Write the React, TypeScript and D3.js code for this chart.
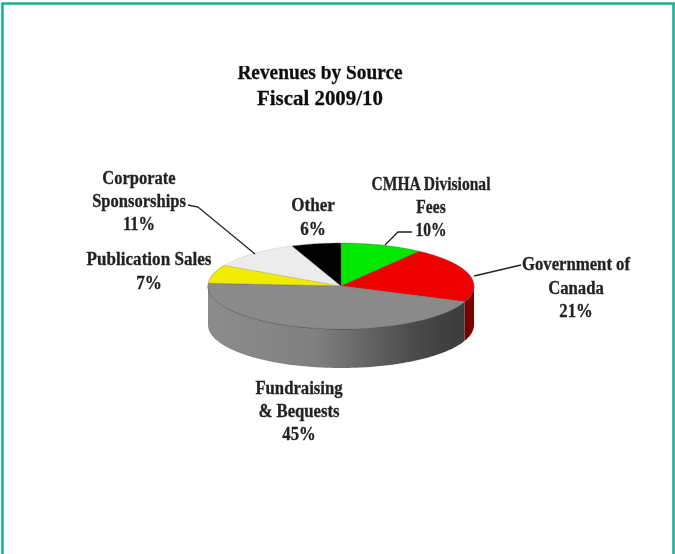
import React from "react";
import * as d3 from "d3";

const categories = ["CMHA Divisional Fees", "Government of Canada", "Fundraising & Bequests", "Publication Sales", "Corporate Sponsorships", "Other"];
const values = [10, 21, 45, 7, 11, 6];
const colors = ["#00e800", "#ee0000", "#8a8a8a", "#f0ec00", "#ececec", "#000000"];
const wallColors = ["#007000", "#7a0000", "url(#wall)", "#807a00", "#888888", "#000000"];
const titleLines = ["Revenues by Source", "Fiscal 2009/10"];
const titleStretch = [0.88, 0.95];
const labelLines = [
  ["CMHA Divisional", "Fees", "10%"],
  ["Government of", "Canada", "21%"],
  ["Fundraising", "& Bequests", "45%"],
  ["Publication Sales", "7%"],
  ["Corporate", "Sponsorships", "11%"],
  ["Other", "6%"],
];
const labelStretch = [0.82, 0.88, 0.88, 0.9, 0.87, 0.9];
const labelPos = [
  { x: 431, y: 190, lh: 23 },
  { x: 576, y: 270, lh: 23.5 },
  { x: 299, y: 394, lh: 23 },
  { x: 149, y: 265, lh: 24 },
  { x: 139, y: 184, lh: 23 },
  { x: 313, y: 211, lh: 24 },
];
const leaders = [
  [[412, 232], [398, 232], [385, 245]],
  [[521, 265], [474, 276]],
  [],
  [],
  [[188, 205], [198, 207], [255, 254]],
  [],
];

const cx = 341, cy = 286, rx = 133, ry = 43, depth = 39;
const px = (a: number) => cx + rx * Math.sin(a);
const py = (a: number) => cy - ry * Math.cos(a);
const line = d3.line();
const close = d3.line().curve(d3.curveLinearClosed);

function samples(a0: number, a1: number) {
  const n = Math.max(2, Math.ceil((a1 - a0) / 0.02));
  return d3.range(n + 1).map((i) => a0 + ((a1 - a0) * i) / n);
}

const arcs = d3.pie<number>().sort(null).startAngle(0).endAngle(2 * Math.PI)(values);

function topPath(a0: number, a1: number) {
  const pts = samples(a0, a1).map((a) => [px(a), py(a)] as [number, number]);
  return close([[cx, cy], ...pts]) as string;
}

function wallPath(a0: number, a1: number) {
  const lo = Math.max(a0, Math.PI / 2), hi = Math.min(a1, (3 * Math.PI) / 2);
  if (hi <= lo) return null;
  const s = samples(lo, hi);
  const upper = s.map((a) => [px(a), py(a)] as [number, number]);
  const lower = s.slice().reverse().map((a) => [px(a), py(a) + depth] as [number, number]);
  return close([...upper, ...lower]) as string;
}

const font = "'Liberation Serif', serif";

export default function App() {
  return (
    <svg width={675} height={554} style={{ position: "fixed", left: 0, top: 0, background: "#fff" }}>
      <defs>
        <linearGradient id="wall" gradientUnits="userSpaceOnUse" x1={cx - rx} x2={cx + rx} y1={0} y2={0}>
          <stop offset="0" stopColor="#8c8c8c" />
          <stop offset="0.4" stopColor="#808080" />
          <stop offset="0.8" stopColor="#484848" />
          <stop offset="1" stopColor="#383838" />
        </linearGradient>
        <filter id="soft" x="-5%" y="-5%" width="110%" height="110%">
          <feGaussianBlur stdDeviation="0.6" />
        </filter>
        <clipPath id="titleClip">
          <rect x={0} y={66} width={675} height={60} />
        </clipPath>
      </defs>
      <path d="M2.5,554 V3.5 H673.5 V554" fill="none" stroke="#12b294" strokeWidth={2.5} />
      <g filter="url(#soft)">
        <g clipPath="url(#titleClip)">
          {titleLines.map((t, i) => (
            <text key={t} transform={`translate(320,${79 + i * 26}) scale(${titleStretch[i]},1)`} textAnchor="middle" fontFamily={font} fontWeight="bold" fontSize={22} stroke="#111" strokeWidth={0.3} fill="#111">
              {t}
            </text>
          ))}
        </g>
        {arcs.map((d, i) => {
          const p = wallPath(d.startAngle, d.endAngle);
          return p ? <path key={i} d={p} fill={wallColors[i]} /> : null;
        })}
        <path d={line(samples(Math.PI / 2, (3 * Math.PI) / 2).map((a) => [px(a), py(a)] as [number, number])) as string} fill="none" stroke="#444" strokeWidth={0.7} />
        {arcs.map((d, i) => (
          <path key={i} d={topPath(d.startAngle, d.endAngle)} fill={colors[i]} stroke={i === 4 ? "#bbb" : "#666"} strokeWidth={0.4} />
        ))}
        {leaders.map((l, i) =>
          l.length ? <path key={i} d={line(l as [number, number][]) as string} fill="none" stroke="#222" strokeWidth={1.3} /> : null
        )}
        {labelLines.map((lines, i) =>
          lines.map((t, j) => (
            <text key={t} transform={`translate(${labelPos[i].x},${labelPos[i].y + j * labelPos[i].lh}) scale(${labelStretch[i]},1)`} textAnchor="middle" fontFamily={font} fontWeight="bold" fontSize={19} stroke="#222" strokeWidth={0.3} fill="#222">
              {t}
            </text>
          ))
        )}
      </g>
    </svg>
  );
}
